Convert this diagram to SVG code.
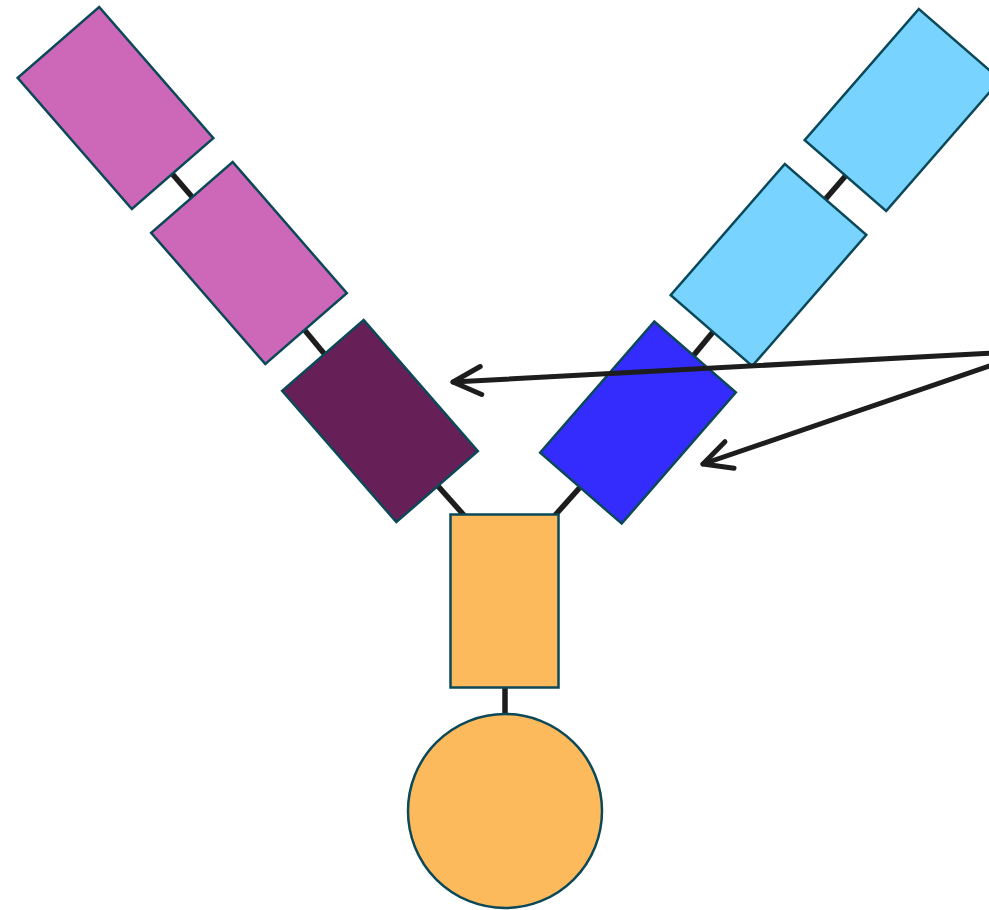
<svg xmlns="http://www.w3.org/2000/svg" width="989" height="910" viewBox="0 0 989 910">
<style>
.node{stroke:#0b4858;stroke-width:2.5}
.link{stroke:#1d1d1d;stroke-width:5.5;fill:none}
.arrow{stroke:#1d1d1d;stroke-width:5;fill:none;stroke-linecap:round}
.pink{fill:#cd68b9}.plum{fill:#671f58}.sky{fill:#78d4fe}.blue{fill:#332cfc}.gold{fill:#fdba5d}
</style>
<defs>
<marker id="head" markerUnits="userSpaceOnUse" markerWidth="40" markerHeight="40" viewBox="-34 -20 40 40" refX="0" refY="0" orient="auto" overflow="visible">
<path d="M -28 -14 L 0 0 L -28 14" fill="none" stroke="#1d1d1d" stroke-width="5" stroke-linecap="round" stroke-linejoin="round"/>
</marker>
</defs>
<rect width="989" height="910" fill="#ffffff"/>
<g id="connectors">
<line class="link" x1="115.5" y1="108" x2="249" y2="263"/>
<line class="link" x1="249" y1="263" x2="380" y2="421"/>
<line class="link" x1="380" y1="421" x2="470" y2="522"/>
<line class="link" x1="902.5" y1="110" x2="768.5" y2="265"/>
<line class="link" x1="768.5" y1="265" x2="638" y2="422.5"/>
<line class="link" x1="638" y1="422.5" x2="549" y2="522"/>
<line class="link" x1="505" y1="600" x2="505" y2="780"/>
</g>
<g id="left-top"><rect class="node pink" x="-54" y="-87" width="108" height="174" transform="translate(115.5 108) rotate(-41)"/></g>
<g id="left-mid"><rect class="node pink" x="-54" y="-87" width="108" height="174" transform="translate(249 263) rotate(-41)"/></g>
<g id="left-inner"><rect class="node plum" x="-54" y="-87" width="108" height="174" transform="translate(380 421) rotate(-41)"/></g>
<g id="right-top"><rect class="node sky" x="-54" y="-87" width="108" height="174" transform="translate(902.5 110) rotate(41)"/></g>
<g id="right-mid"><rect class="node sky" x="-54" y="-87" width="108" height="174" transform="translate(768.5 265) rotate(41)"/></g>
<g id="right-inner"><rect class="node blue" x="-54" y="-87" width="108" height="174" transform="translate(638 422.5) rotate(41)"/></g>
<g id="stem"><rect class="node gold" x="450.5" y="514.5" width="108" height="173"/></g>
<g id="base"><circle class="node gold" cx="505" cy="811" r="97"/></g>
<g id="callout-arrows">
<line class="arrow" x1="992" y1="353" x2="453" y2="382" marker-end="url(#head)"/>
<line class="arrow" x1="992" y1="365" x2="703" y2="464" marker-end="url(#head)"/>
</g>
</svg>
